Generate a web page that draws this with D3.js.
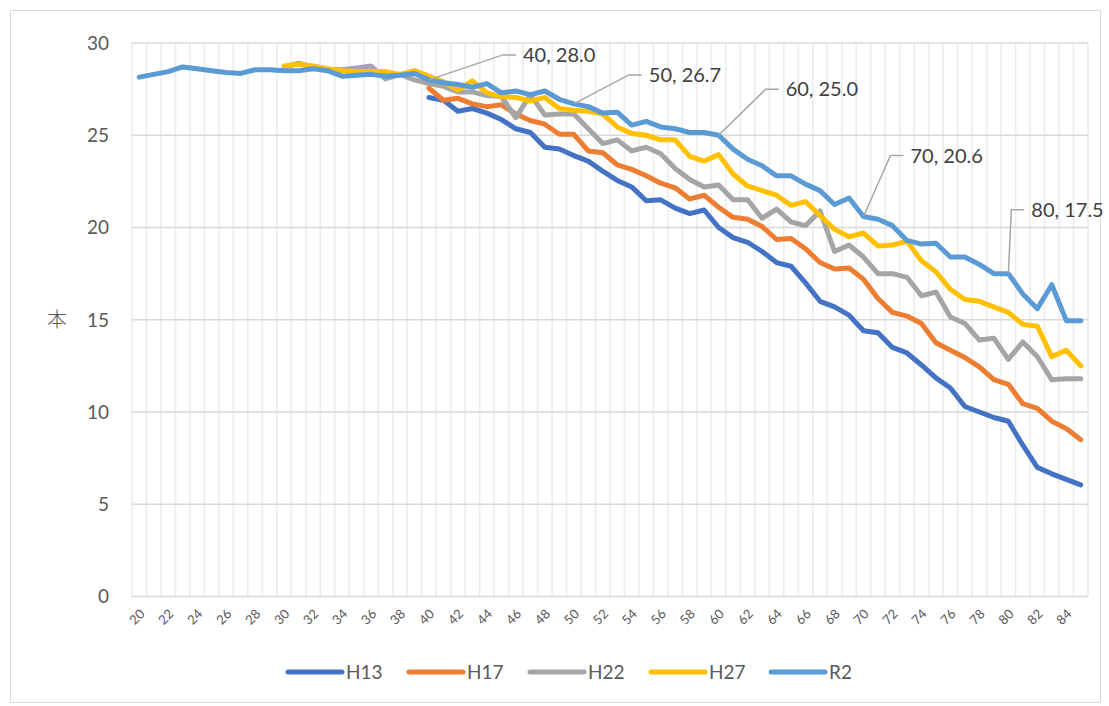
<!DOCTYPE html>
<html>
<head>
<meta charset="utf-8">
<script src="https://cdn.jsdelivr.net/npm/d3@7"></script>
<style>
  body { margin: 0; background: #fff; }
  svg { display: block; }
</style>
</head>
<body>
<div id="chart"></div>
<script>
// ages on the category axis
var ages = [20,21,22,23,24,25,26,27,28,29,30,31,32,33,34,35,36,37,38,39,
  40,41,42,43,44,45,46,47,48,49,50,51,52,53,54,55,56,57,58,59,
  60,61,62,63,64,65,66,67,68,69,70,71,72,73,74,75,76,77,78,79,
  80,81,82,83,84,85]

var tickAges = [20,22,24,26,28,30,32,34,36,38,40,42,44,46,48,50,52,54,56,58,60,62,64,66,68,70,72,74,76,78,80,82,84]
var yTicks = [0, 5, 10, 15, 20, 25, 30]

var seriesNames = ["H13", "H17", "H22", "H27", "R2"]
var seriesColors = ["#4472C4", "#ED7D31", "#A5A5A5", "#FFC000", "#5B9BD5"]

// values from age 40 onwards
var h13 = [27.05,26.9,26.3,26.45,26.2,25.85,25.35,25.15,24.35,24.25,
  23.9,23.6,23.05,22.55,22.2,21.45,21.5,21.05,20.75,20.95,
  20.0,19.45,19.2,18.7,18.1,17.9,17.0,16.0,15.7,15.25,
  14.4,14.3,13.5,13.2,12.55,11.85,11.3,10.3,10.0,9.7,
  9.5,8.2,7.0,6.65,6.35,6.05]

var h17 = [27.55,26.9,27.0,26.7,26.55,26.65,26.15,25.8,25.6,25.05,
  25.05,24.15,24.05,23.4,23.15,22.8,22.4,22.15,21.55,21.75,
  21.1,20.55,20.45,20.05,19.35,19.4,18.85,18.1,17.75,17.8,
  17.2,16.15,15.4,15.2,14.8,13.75,13.35,12.95,12.45,11.75,
  11.5,10.45,10.2,9.5,9.1,8.5]

// values from age 30 onwards
var h22 = [28.7,28.9,28.7,28.55,28.55,28.65,28.75,28.05,28.3,28.0,
  27.8,27.65,27.35,27.35,27.15,27.1,25.95,27.2,26.1,26.15,
  26.15,25.35,24.55,24.75,24.15,24.35,24.0,23.2,22.6,22.2,
  22.3,21.5,21.5,20.5,21.0,20.3,20.1,20.9,18.7,19.05,
  18.4,17.5,17.5,17.3,16.3,16.5,15.15,14.8,13.9,14.0,
  12.85,13.8,13.0,11.75,11.8,11.8]

var h27 = [28.75,28.85,28.75,28.6,28.5,28.45,28.45,28.45,28.3,28.5,
  28.2,27.9,27.45,27.95,27.3,27.1,27.05,26.85,27.05,26.45,
  26.35,26.3,26.15,25.45,25.1,25.0,24.75,24.75,23.85,23.6,
  23.95,22.9,22.25,22.0,21.75,21.2,21.4,20.65,19.9,19.5,
  19.7,19.0,19.05,19.25,18.2,17.6,16.65,16.1,16.0,15.7,
  15.4,14.75,14.65,13.0,13.35,12.5]

// values from age 20 onwards
var r2 = [28.15,28.3,28.45,28.7,28.6,28.5,28.4,28.35,28.55,28.55,
  28.5,28.5,28.6,28.5,28.2,28.25,28.3,28.2,28.25,28.35,
  28.0,27.85,27.75,27.6,27.8,27.3,27.4,27.2,27.4,26.95,
  26.7,26.55,26.2,26.25,25.55,25.75,25.45,25.35,25.15,25.15,
  25.0,24.25,23.7,23.35,22.8,22.8,22.35,22.0,21.25,21.6,
  20.6,20.45,20.1,19.3,19.1,19.15,18.4,18.4,18.0,17.5,
  17.5,16.4,15.6,16.9,14.95,14.95]

var seriesStart = [40, 40, 30, 30, 20]
var seriesValues = [h13, h17, h22, h27, r2]

// data labels on R2
var labelAges = [40, 50, 60, 70, 80]
// leader elbow offsets from the point
var labelOffsets = [[74,-25],[55,-29],[47,-46],[27,-61],[3,-64]]

var width = 1109, height = 706
var margin = {top: 43, right: 21, bottom: 109, left: 132}
var font = "Lato, 'Open Sans', sans-serif"

var svg = d3.select("#chart").append("svg")
  .attr("width", width)
  .attr("height", height)

svg.append("rect")
  .attr("x", 10.5).attr("y", 10.5)
  .attr("width", 1090).attr("height", 692)
  .attr("fill", "#fff")
  .attr("stroke", "#d9d9d9")
  .attr("stroke-width", 1)

var x = d3.scaleBand()
  .domain(ages)
  .range([margin.left, width - margin.right])
  .padding(0)

var y = d3.scaleLinear()
  .domain([0, 30])
  .range([height - margin.bottom - 0.5, margin.top])

var cx = a => x(a) + x.bandwidth() / 2

// vertical gridlines at category boundaries
var bounds = ages.map(a => x(a)).concat([x(85) + x.bandwidth()])
svg.append("g")
  .selectAll("line")
  .data(bounds)
  .join("line")
    .attr("x1", d => d).attr("x2", d => d)
    .attr("y1", y(30)).attr("y2", y(0))
    .attr("stroke", "#ececec")
    .attr("stroke-width", 1.6)

// horizontal gridlines
svg.append("g")
  .selectAll("line")
  .data(yTicks)
  .join("line")
    .attr("x1", margin.left).attr("x2", width - margin.right)
    .attr("y1", d => y(d)).attr("y2", d => y(d))
    .attr("stroke", "#d9d9d9")
    .attr("stroke-width", 1.6)

// y tick labels
svg.append("g")
  .attr("font-family", font)
  .attr("font-size", 19)
  .attr("fill", "#595959")
  .attr("text-anchor", "end")
  .selectAll("text")
  .data(yTicks)
  .join("text")
    .attr("x", 109)
    .attr("y", d => y(d))
    .attr("dy", "0.36em")
    .text(d => d)

svg.append("text")
  .attr("x", 57)
  .attr("y", y(15))
  .attr("dy", "0.36em")
  .attr("text-anchor", "middle")
  .attr("font-family", "'Noto Sans CJK JP', sans-serif")
  .attr("font-weight", 300)
  .attr("font-size", 20)
  .attr("fill", "#595959")
  .text("本")

// x tick labels, rotated
svg.append("g")
  .attr("font-family", font)
  .attr("font-size", 13)
  .attr("fill", "#595959")
  .attr("text-anchor", "end")
  .selectAll("text")
  .data(tickAges)
  .join("text")
    .attr("transform", d => `translate(${cx(d) + 3},${y(0) + 15}) rotate(-45)`)
    .attr("dy", "0.35em")
    .text(d => d)

// lines
var line = d3.line()
  .x(d => cx(d.age))
  .y(d => y(d.v))

var seriesData = seriesNames.map((name, i) => ({
  name: name,
  color: seriesColors[i],
  points: seriesValues[i].map((v, j) => ({age: seriesStart[i] + j, v: v}))
}))

svg.append("g")
  .selectAll("path")
  .data(seriesData)
  .join("path")
    .attr("fill", "none")
    .attr("stroke", d => d.color)
    .attr("stroke-width", 5)
    .attr("stroke-linejoin", "round")
    .attr("stroke-linecap", "round")
    .attr("d", d => line(d.points))

// data labels with leader lines
var labels = svg.append("g")
labelAges.forEach((a, i) => {
  var v = r2[a - 20]
  var px = cx(a), py = y(v)
  var ex = px + labelOffsets[i][0], ey = py + labelOffsets[i][1]
  labels.append("path")
    .attr("d", `M${px},${py}L${ex},${ey}L${ex + 13},${ey}`)
    .attr("fill", "none")
    .attr("stroke", "#a6a6a6")
    .attr("stroke-width", 1.5)
  labels.append("text")
    .attr("x", ex + 20)
    .attr("y", ey)
    .attr("dy", "0.36em")
    .attr("font-family", font)
    .attr("font-size", 20)
    .attr("fill", "#404040")
    .text(`${a}, ${v.toFixed(1)}`)
})

// legend
var legendX = [288, 409, 530, 651, 771]
var legend = svg.append("g")
  .selectAll("g")
  .data(seriesData)
  .join("g")
    .attr("transform", (d, i) => `translate(${legendX[i]},672)`)

legend.append("line")
  .attr("x1", 0).attr("x2", 54)
  .attr("stroke", d => d.color)
  .attr("stroke-width", 5)
  .attr("stroke-linecap", "round")

legend.append("text")
  .attr("x", 58)
  .attr("dy", "0.36em")
  .attr("font-family", font)
  .attr("font-size", 19)
  .attr("fill", "#595959")
  .text(d => d.name)
</script>
</body>
</html>
